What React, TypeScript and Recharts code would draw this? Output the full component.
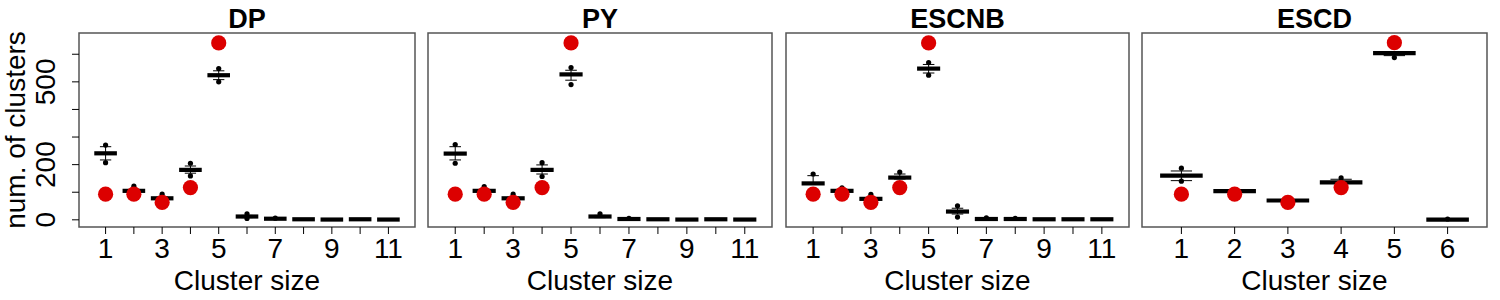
import React from 'react';
import { ComposedChart, Scatter, XAxis, YAxis, ReferenceArea, ErrorBar } from 'recharts';

// ---------- data ----------
const sizes11 = [1, 2, 3, 4, 5, 6, 7, 8, 9, 10, 11];
const sizes6 = [1, 2, 3, 4, 5, 6];
const xLabels11 = ['1', '', '3', '', '5', '', '7', '', '9', '', '11'];
const xLabels6 = ['1', '2', '3', '4', '5', '6'];
const yTicks = [0, 100, 200, 300, 400, 500, 600];
const yTickLabels = ['0', '', '200', '', '', '500', ''];

// observed counts (red dots), cluster sizes 1..5
const observed = [93, 93, 63, 117, 641];

// DP
const dpMedian = [241, 105, 78, 181, 524, 12, 4, 2, 1, 2, 1];
const dpHi = [265, 110, 82, 195, 540, 16, 5, 3, 2, 3, 2];
const dpLo = [217, 101, 75, 169, 508, 8, 3, 1, 0, 1, 0];
const dpOut = [[271, 207], [122], [93], [205, 159], [548, 500], [22, 5], [6], [], [], [], []];

// PY
const pyMedian = [240, 105, 78, 181, 527, 12, 3, 2, 1, 2, 1];
const pyHi = [265, 110, 82, 199, 542, 16, 4, 3, 2, 3, 2];
const pyLo = [217, 101, 75, 166, 506, 8, 2, 1, 0, 1, 0];
const pyOut = [[273, 205], [120], [93], [207, 157], [552, 490], [22], [5], [], [], [], []];

// ESCNB
const escnbMedian = [132, 105, 76, 153, 548, 30, 3, 3, 2, 2, 2];
const escnbHi = [160, 110, 80, 166, 563, 42, 5, 4, 3, 3, 3];
const escnbLo = [128, 101, 73, 148, 532, 21, 2, 2, 1, 1, 1];
const escnbOut = [[166], [116], [92], [173], [570, 524], [51, 10], [7], [5], [], [], []];

// ESCD
const escdMedian = [160, 104, 70, 136, 604, 1];
const escdHi = [177, 108, 73, 147, 608, 2];
const escdLo = [142, 100, 67, 132, 595, 0];
const escdOut = [[187, 140], [], [], [152], [588], [3]];
const escdObserved = [93, 93, 63, 117, 642];

// ---------- styling ----------
const FONT = '"Liberation Sans", Arial, Helvetica, sans-serif';
const FS = 28;
const RED = '#dc0000';
const Y_DOMAIN: [number, number] = [-26, 677];
const PLOT_TOP = 33;
const X_AXIS_H = 63;
const BOTTOM = 10;
const HEIGHT = 300;

type PanelProps = {
  title: string;
  sizes: number[];
  xLabels: string[];
  median: number[];
  hi: number[];
  lo: number[];
  outliers: number[][];
  red: number[];
  left: number;
  width: number;
  mL: number;
  mR: number;
  showY: boolean;
};

const Y_W = 60;

function Panel(p: PanelProps) {
  const n = p.sizes.length;
  const xMin = 0.5 - 0.04 * n;
  const xMax = n + 0.5 + 0.04 * n;
  const plotW = p.width - p.mL - p.mR - (p.showY ? Y_W : 0);
  const unitPx = plotW / (xMax - xMin);
  const halfBox = 0.4 * unitPx;
  const halfStaple = 0.2 * unitPx;

  const medianData = p.sizes.map((s, i) => ({
    x: s,
    y: p.median[i],
    err: [p.median[i] - p.lo[i], p.hi[i] - p.median[i]],
  }));
  const outlierData = p.sizes.flatMap((s, i) => p.outliers[i].map((v) => ({ x: s, y: v })));
  const redData = p.red.map((v, i) => ({ x: p.sizes[i], y: v }));

  const medianShape = (props: any) => (
    <line
      x1={props.cx - halfBox}
      x2={props.cx + halfBox}
      y1={props.cy}
      y2={props.cy}
      stroke="#000"
      strokeWidth={4.2}
    />
  );
  const outShape = (props: any) => <circle cx={props.cx} cy={props.cy} r={2.6} fill="#000" />;
  const redShape = (props: any) => <circle cx={props.cx} cy={props.cy} r={7.6} fill={RED} />;

  const titleLabel = (props: any) => {
    const vb = props.viewBox;
    return (
      <text
        x={vb.x + vb.width / 2}
        y={vb.y - 5}
        textAnchor="middle"
        fontSize={27}
        fontWeight="bold"
        fontFamily={FONT}
        fill="#000"
      >
        {p.title}
      </text>
    );
  };

  const xLabel = (props: any) => {
    const vb = props.viewBox;
    return (
      <text
        x={vb.x + vb.width / 2}
        y={vb.y + vb.height}
        textAnchor="middle"
        fontSize={FS}
        fontFamily={FONT}
        fill="#000"
      >
        Cluster size
      </text>
    );
  };

  const yLabel = (props: any) => {
    const vb = props.viewBox;
    const x = vb.x + 6;
    const y = vb.y + vb.height / 2;
    return (
      <text
        x={x}
        y={y}
        transform={`rotate(-90 ${x} ${y})`}
        textAnchor="middle"
        fontSize={FS}
        fontFamily={FONT}
        fill="#000"
      >
        num. of clusters
      </text>
    );
  };

  const yTick = (props: any) => {
    const { x, y, index } = props;
    return (
      <text
        x={x}
        y={y}
        transform={`rotate(-90 ${x} ${y})`}
        textAnchor="middle"
        fontSize={FS}
        fontFamily={FONT}
        fill="#000"
      >
        {yTickLabels[index]}
      </text>
    );
  };

  return (
    <div style={{ position: 'absolute', left: p.left, top: 0, width: p.width, height: HEIGHT }}>
      <ComposedChart
        width={p.width}
        height={HEIGHT}
        margin={{ top: PLOT_TOP, right: p.mR, bottom: BOTTOM, left: p.mL }}
      >
        <XAxis
          type="number"
          dataKey="x"
          domain={[xMin, xMax]}
          ticks={p.sizes}
          interval={0}
          allowDataOverflow
          height={X_AXIS_H}
          axisLine={false}
          tickLine={{ stroke: '#000', strokeWidth: 1 }}
          tickSize={7}
          tickMargin={4}
          tick={{ fontSize: FS, fill: '#000', fontFamily: FONT }}
          tickFormatter={(_v: any, i: number) => p.xLabels[i]}
          label={xLabel}
        />
        <YAxis
          type="number"
          domain={Y_DOMAIN}
          ticks={yTicks}
          interval={0}
          allowDataOverflow
          hide={!p.showY}
          width={Y_W}
          axisLine={false}
          tickLine={{ stroke: '#000', strokeWidth: 1 }}
          tickSize={7}
          tickMargin={17}
          tick={yTick}
          label={yLabel}
        />
        <ReferenceArea
          x1={xMin}
          x2={xMax}
          y1={Y_DOMAIN[0]}
          y2={Y_DOMAIN[1]}
          fill="none"
          fillOpacity={0}
          stroke="#555"
          strokeWidth={1.5}
          ifOverflow="visible"
          label={titleLabel}
        />
        <Scatter data={medianData} dataKey="y" shape={medianShape} isAnimationActive={false}>
          <ErrorBar
            dataKey="err"
            direction="y"
            width={halfStaple}
            stroke="#000"
            strokeWidth={1}
            isAnimationActive={false}
          />
        </Scatter>
        <Scatter data={outlierData} dataKey="y" shape={outShape} isAnimationActive={false} />
        <Scatter data={redData} dataKey="y" shape={redShape} isAnimationActive={false} />
      </ComposedChart>
    </div>
  );
}

export default function App() {
  return (
    <div
      style={{
        position: 'absolute',
        left: 0,
        top: 0,
        width: 1500,
        height: HEIGHT,
        background: '#fff',
        fontFamily: FONT,
      }}
    >
      <Panel
        title="DP"
        sizes={sizes11}
        xLabels={xLabels11}
        median={dpMedian}
        hi={dpHi}
        lo={dpLo}
        outliers={dpOut}
        red={observed}
        left={0}
        width={425}
        mL={19}
        mR={10}
        showY
      />
      <Panel
        title="PY"
        sizes={sizes11}
        xLabels={xLabels11}
        median={pyMedian}
        hi={pyHi}
        lo={pyLo}
        outliers={pyOut}
        red={observed}
        left={420}
        width={360}
        mL={8}
        mR={8}
        showY={false}
      />
      <Panel
        title="ESCNB"
        sizes={sizes11}
        xLabels={xLabels11}
        median={escnbMedian}
        hi={escnbHi}
        lo={escnbLo}
        outliers={escnbOut}
        red={observed}
        left={780}
        width={355}
        mL={6}
        mR={6}
        showY={false}
      />
      <Panel
        title="ESCD"
        sizes={sizes6}
        xLabels={xLabels6}
        median={escdMedian}
        hi={escdHi}
        lo={escdLo}
        outliers={escdOut}
        red={escdObserved}
        left={1136}
        width={356}
        mL={6}
        mR={5}
        showY={false}
      />
    </div>
  );
}
